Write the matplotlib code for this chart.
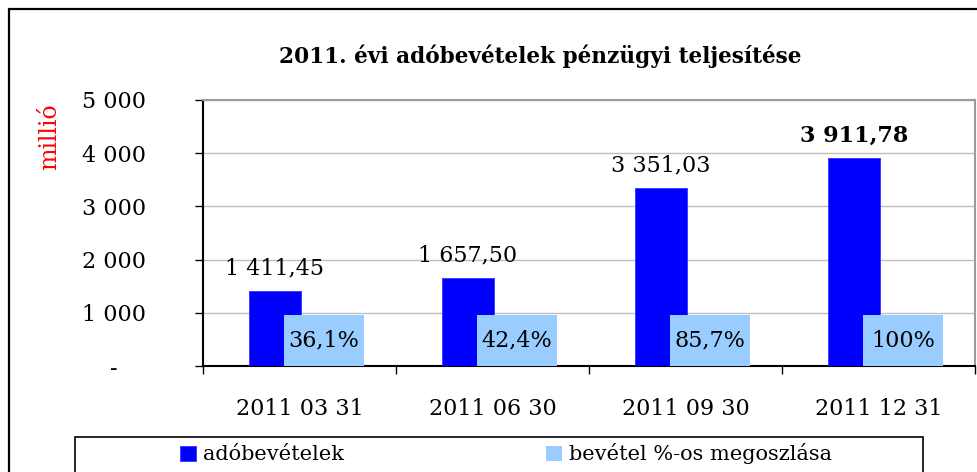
import matplotlib
matplotlib.use('Agg')
import matplotlib.pyplot as plt
import matplotlib.patches as patches
import matplotlib.transforms as mtransforms

plt.rcParams['font.family'] = 'DejaVu Serif'

# Data
dates = ['2011 03 31', '2011 06 30', '2011 09 30', '2011 12 31']
revenue = [1411.45, 1657.50, 3351.03, 3911.78]      # adóbevételek (millió)
share_pct = [36.1, 42.4, 85.7, 100.0]                # bevétel %-os megoszlása
y_ticks = [0, 1000, 2000, 3000, 4000, 5000]

dark_blue = '#0000FF'
light_blue = '#99CCFF'


def fmt_num(v):
    s = f"{v:,.2f}"
    return s.replace(',', ' ').replace('.', ',')


def fmt_pct(v):
    if v == int(v):
        return f"{int(v)}%"
    return f"{v:.1f}".replace('.', ',') + '%'


def fmt_tick(v):
    if v == 0:
        return '-'
    return f"{int(v):,}".replace(',', ' ')


W, H = 977, 472
fig = plt.figure(figsize=(W / 100, H / 100), dpi=100)
ax = fig.add_axes([203 / W, 1 - 366 / H, (975 - 203) / W, (366 - 100) / H])

x = list(range(len(dates)))
off = 0.127
bw = 0.268

bars = ax.bar([i - off for i in x], revenue, width=bw, color=dark_blue,
              edgecolor='#3333FF', linewidth=0.6, zorder=3, label='adóbevételek')
pbars = ax.bar([i + off for i in x], [p / 100 for p in share_pct], width=bw,
               color=light_blue, zorder=3, label='bevétel %-os megoszlása')

# value labels above dark bars
for i, (b, v) in enumerate(zip(bars, revenue)):
    bold = i == len(revenue) - 1
    ax.annotate(fmt_num(v), (b.get_x() + b.get_width() / 2, b.get_height()),
                xytext=(0, 8), textcoords='offset points', ha='center', va='bottom',
                fontsize=16, fontweight='bold' if bold else 'normal', zorder=5)

# percentage labels in light blue boxes
box_w, box_h = 0.412, 955
for b, p in zip(pbars, share_pct):
    cx = b.get_x() + b.get_width() / 2
    ax.add_patch(patches.Rectangle((cx - box_w / 2, 0), box_w, box_h,
                                   facecolor=light_blue, edgecolor='none', zorder=4))
    ax.text(cx, box_h / 2, fmt_pct(p), ha='center', va='center', fontsize=16, zorder=5)

ax.set_xlim(-0.5, len(dates) - 0.5)
ax.set_ylim(0, 5000)

ax.set_yticks(y_ticks)
ax.set_yticklabels([fmt_tick(v) for v in y_ticks], fontsize=16)
ax.tick_params(axis='y', direction='out', length=6, width=1, pad=35)

ax.set_xticks(x)
ax.set_xticklabels(dates, fontsize=16)
ax.set_xticks([i - 0.5 for i in range(len(dates) + 1)], minor=True)
ax.tick_params(axis='x', which='major', length=0, pad=23)
ax.tick_params(axis='x', which='minor', direction='out', length=6, width=1)

# shift the "-" zero label to the left like the original
zero_lbl = ax.get_yticklabels()[0]
zero_lbl.set_transform(zero_lbl.get_transform() +
                       mtransforms.ScaledTranslation(-28 / 100, 0, fig.dpi_scale_trans))

ax.grid(axis='y', color='#BFBFBF', linewidth=1, zorder=0)
ax.set_axisbelow(True)
ax.spines['left'].set_color('black')
ax.spines['bottom'].set_color('black')
ax.spines['top'].set_color('#9A9A9A')
ax.spines['right'].set_color('#9A9A9A')
for s in ax.spines.values():
    s.set_linewidth(1.5)

# title and y label
fig.text(540 / W, 1 - 63 / H, '2011. évi adóbevételek pénzügyi teljesítése',
         ha='center', va='baseline', fontsize=15.6, fontweight='bold')
fig.text(50 / W, 1 - 137 / H, 'millió', rotation=90, ha='center', va='center',
         fontsize=17, color='#FF0000')

# outer chart frame
fig.add_artist(patches.Rectangle((9 / W, -0.1), 1.2, 1 - 9 / H + 0.1,
                                 transform=fig.transFigure, fill=False,
                                 edgecolor='black', linewidth=1.6))

# legend frame and entries
fig.add_artist(patches.Rectangle((75 / W, -0.1), (923 - 75) / W, 1 - 437 / H + 0.1,
                                 transform=fig.transFigure, fill=False,
                                 edgecolor='black', linewidth=1.2))
fig.legend(handles=[bars, pbars], ncol=2, loc='center left',
           bbox_to_anchor=(180 / W, 1 - 454 / H), frameon=False, fontsize=15,
           handlelength=0.75, handleheight=0.75, handletextpad=0.35,
           columnspacing=9.7, borderpad=0, borderaxespad=0)

fig.savefig('out.png', dpi=100)
